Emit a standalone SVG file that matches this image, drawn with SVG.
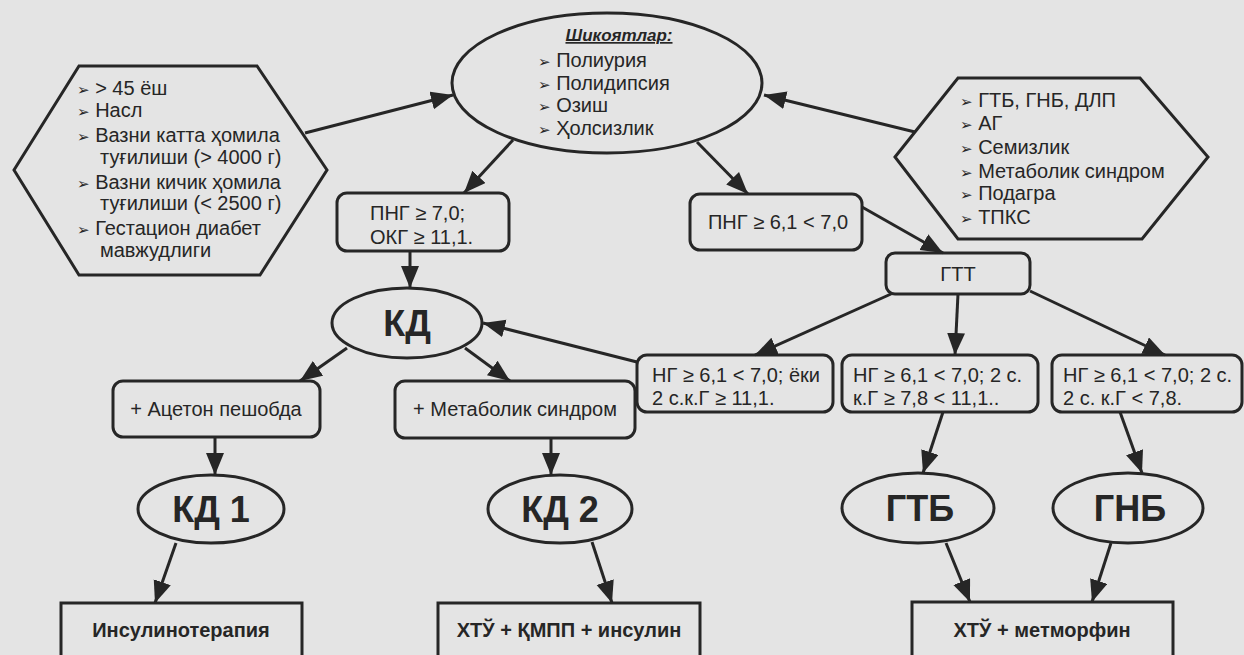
<svg xmlns="http://www.w3.org/2000/svg" width="1244" height="655" viewBox="0 0 1244 655">
  <defs>
    <marker id="arr" markerUnits="userSpaceOnUse" markerWidth="24" markerHeight="20" refX="22" refY="9" orient="auto">
      <path d="M0,0 L22,9 L0,18 z" fill="#262626"/>
    </marker>
    <style>
      .shape { fill: none; stroke: #262626; stroke-width: 3; }
      .link { fill: none; stroke: #262626; stroke-width: 3; marker-end: url(#arr); }
      .t { font-family: "Liberation Sans", "DejaVu Sans", Arial, sans-serif; fill: #262626; }
      .list { font-size: 20px; }
      .bul { font-family: "DejaVu Sans", sans-serif; font-size: 15px; }
      .box { font-size: 20px; }
      .big { font-size: 36px; font-weight: bold; text-anchor: middle; }
      .bold { font-size: 20px; font-weight: bold; text-anchor: middle; }
      .mid { text-anchor: middle; }
    </style>
  </defs>

  <rect width="1244" height="655" fill="#e4e4e4"/>

  <!-- risk factors (left) -->
  <g id="risk-left">
    <polygon class="shape" points="14,170 79,66 257,66 327,170 260,275 79,275"/>
    <text class="t list">
      <tspan x="77" y="95"><tspan class="bul">➢</tspan> &gt; 45 ёш</tspan>
      <tspan x="77" y="117"><tspan class="bul">➢</tspan> Насл</tspan>
      <tspan x="77" y="142"><tspan class="bul">➢</tspan> Вазни катта ҳомила</tspan>
      <tspan x="100" y="164">туғилиши (&gt; 4000 г)</tspan>
      <tspan x="77" y="189"><tspan class="bul">➢</tspan> Вазни кичик ҳомила</tspan>
      <tspan x="100" y="210">туғилиши (&lt; 2500 г)</tspan>
      <tspan x="77" y="235"><tspan class="bul">➢</tspan> Гестацион диабет</tspan>
      <tspan x="100" y="257">мавжудлиги</tspan>
    </text>
  </g>

  <!-- complaints (top) -->
  <g id="complaints">
    <ellipse class="shape" cx="607" cy="83" rx="155" ry="70"/>
    <text class="t" x="619" y="41" font-size="17" font-weight="bold" font-style="italic" text-anchor="middle" text-decoration="underline">Шикоятлар:</text>
    <text class="t list">
      <tspan x="538" y="67"><tspan class="bul">➢</tspan> Полиурия</tspan>
      <tspan x="538" y="90"><tspan class="bul">➢</tspan> Полидипсия</tspan>
      <tspan x="538" y="112"><tspan class="bul">➢</tspan> Озиш</tspan>
      <tspan x="538" y="135"><tspan class="bul">➢</tspan> Ҳолсизлик</tspan>
    </text>
  </g>

  <!-- risk factors (right) -->
  <g id="risk-right">
    <polygon class="shape" points="895,157 958,78 1140,78 1208,157 1142,239 958,239"/>
    <text class="t list">
      <tspan x="960" y="107"><tspan class="bul">➢</tspan> ГТБ, ГНБ, ДЛП</tspan>
      <tspan x="960" y="130"><tspan class="bul">➢</tspan> АГ</tspan>
      <tspan x="960" y="154"><tspan class="bul">➢</tspan> Семизлик</tspan>
      <tspan x="960" y="178"><tspan class="bul">➢</tspan> Метаболик синдром</tspan>
      <tspan x="960" y="200"><tspan class="bul">➢</tspan> Подагра</tspan>
      <tspan x="960" y="224"><tspan class="bul">➢</tspan> ТПКС</tspan>
    </text>
  </g>

  <g id="png7">
    <rect class="shape" x="337" y="193" width="172" height="58" rx="10"/>
    <text class="t box"><tspan x="370" y="220">ПНГ ≥ 7,0;</tspan><tspan x="370" y="244">ОКГ ≥ 11,1.</tspan></text>
  </g>

  <g id="png61">
    <rect class="shape" x="690" y="194" width="172" height="56" rx="10"/>
    <text class="t box mid" x="778" y="229">ПНГ ≥ 6,1 &lt; 7,0</text>
  </g>

  <g id="gtt">
    <rect class="shape" x="886" y="253" width="144" height="41" rx="9"/>
    <text class="t box mid" x="958" y="281">ГТТ</text>
  </g>

  <g id="kd">
    <ellipse class="shape" cx="407" cy="323" rx="75" ry="35"/>
    <text class="t big" x="407" y="336">КД</text>
  </g>

  <g id="ng-a">
    <rect class="shape" x="637" y="355" width="196" height="57" rx="10"/>
    <text class="t box"><tspan x="652" y="382">НГ ≥ 6,1 &lt; 7,0; ёки</tspan><tspan x="652" y="405">2 с.к.Г ≥ 11,1.</tspan></text>
  </g>

  <g id="ng-b">
    <rect class="shape" x="842" y="355" width="196" height="57" rx="10"/>
    <text class="t box"><tspan x="853" y="382">НГ ≥ 6,1 &lt; 7,0; 2 с.</tspan><tspan x="853" y="405">к.Г ≥ 7,8 &lt; 11,1..</tspan></text>
  </g>

  <g id="ng-c">
    <rect class="shape" x="1052" y="355" width="190" height="57" rx="10"/>
    <text class="t box"><tspan x="1063" y="382">НГ ≥ 6,1 &lt; 7,0; 2 с.</tspan><tspan x="1063" y="405">2 с. к.Г &lt; 7,8.</tspan></text>
  </g>

  <g id="aceton">
    <rect class="shape" x="113" y="381" width="207" height="56" rx="10"/>
    <text class="t box mid" x="216" y="416">+ Ацетон пешобда</text>
  </g>

  <g id="metsyn">
    <rect class="shape" x="395" y="381" width="240" height="57" rx="10"/>
    <text class="t box mid" x="515" y="416">+ Метаболик синдром</text>
  </g>

  <g id="kd1">
    <ellipse class="shape" cx="211" cy="509" rx="73" ry="34"/>
    <text class="t big" x="211" y="522">КД 1</text>
  </g>

  <g id="kd2">
    <ellipse class="shape" cx="560" cy="509" rx="72" ry="34"/>
    <text class="t big" x="560" y="522">КД 2</text>
  </g>

  <g id="gtb">
    <ellipse class="shape" cx="918" cy="508" rx="76" ry="35"/>
    <text class="t big" x="920" y="521">ГТБ</text>
  </g>

  <g id="gnb">
    <ellipse class="shape" cx="1128" cy="508" rx="75" ry="35"/>
    <text class="t big" x="1130" y="521">ГНБ</text>
  </g>

  <g id="insulin">
    <rect class="shape" x="61" y="603" width="241" height="80"/>
    <text class="t bold" x="181" y="637">Инсулинотерапия</text>
  </g>

  <g id="combo">
    <rect class="shape" x="438" y="603" width="262" height="80"/>
    <text class="t bold" x="569" y="637">ХТЎ + ҚМПП + инсулин</text>
  </g>

  <g id="metformin">
    <rect class="shape" x="912" y="602" width="261" height="80"/>
    <text class="t bold" x="1042" y="637">ХТЎ + метморфин</text>
  </g>

  <!-- connectors -->
  <g id="connectors">
    <line class="link" x1="305" y1="133" x2="453" y2="95"/>
    <line class="link" x1="915" y1="132" x2="764" y2="95"/>
    <line class="link" x1="513" y1="140" x2="464" y2="193"/>
    <line class="link" x1="697" y1="142" x2="748" y2="194"/>
    <line class="link" x1="862" y1="207" x2="943" y2="253"/>
    <line class="link" x1="410" y1="251" x2="410" y2="288"/>
    <line class="link" x1="891" y1="294" x2="755" y2="355"/>
    <line class="link" x1="958" y1="294" x2="955" y2="355"/>
    <line class="link" x1="1030" y1="291" x2="1165" y2="355"/>
    <line class="link" x1="637" y1="362" x2="483" y2="323"/>
    <line class="link" x1="347" y1="348" x2="300" y2="381"/>
    <line class="link" x1="465" y1="348" x2="510" y2="381"/>
    <line class="link" x1="215" y1="437" x2="215" y2="475"/>
    <line class="link" x1="551" y1="438" x2="551" y2="475"/>
    <line class="link" x1="176" y1="543" x2="155" y2="603"/>
    <line class="link" x1="592" y1="542" x2="612" y2="603"/>
    <line class="link" x1="943" y1="412" x2="923" y2="473"/>
    <line class="link" x1="1120" y1="412" x2="1142" y2="473"/>
    <line class="link" x1="946" y1="543" x2="970" y2="602"/>
    <line class="link" x1="1111" y1="543" x2="1092" y2="602"/>
  </g>
</svg>
